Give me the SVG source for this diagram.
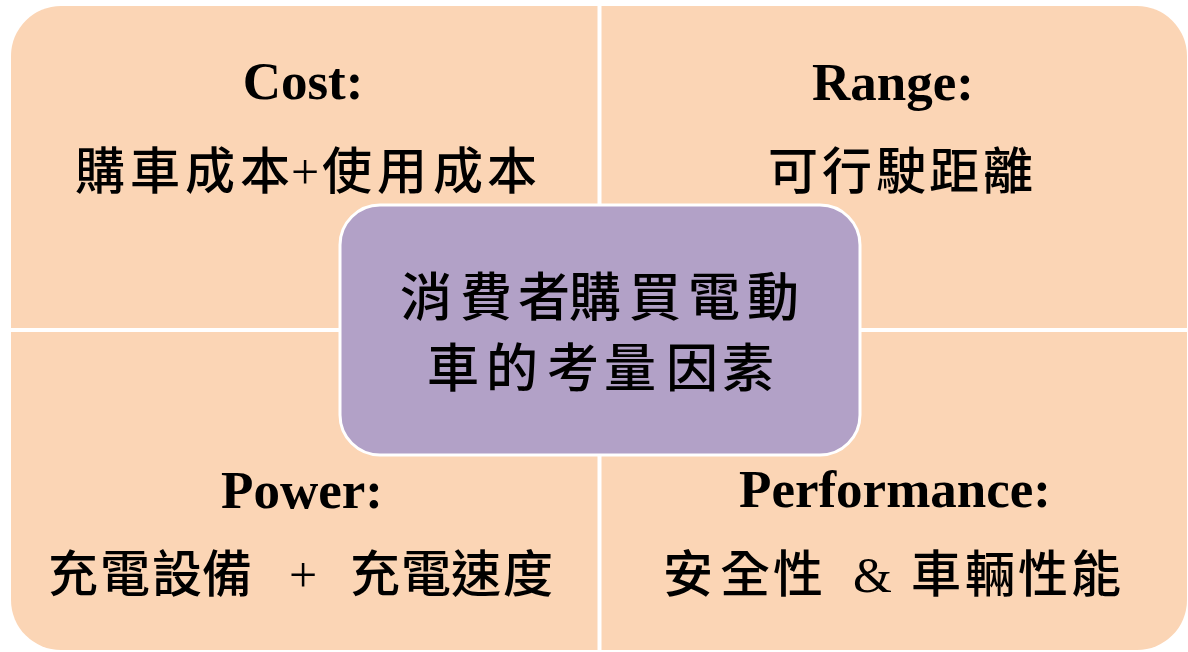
<svg xmlns="http://www.w3.org/2000/svg" width="1188" height="652" viewBox="0 0 1188 652">
<style>
.q{fill:#FBD5B5}
.en{font-family:"Liberation Serif","Times New Roman",serif;font-weight:bold;font-size:53px;fill:#000;text-anchor:middle}
.zh{font-family:"Liberation Serif","Noto Sans CJK TC","Noto Sans CJK SC",serif;font-size:50px;fill:#000;font-weight:500}
.zc{font-family:"Noto Sans CJK TC","Noto Sans CJK SC",sans-serif;font-size:52px;fill:#000;font-weight:500}
</style>
<rect width="1188" height="652" fill="#FFFFFF"/>
<g id="cost">
<path class="q" d="M11,56 A50,50 0 0 1 61,6 H597.5 V328 H11 Z"/>
<text class="en" x="303" y="99">Cost:</text>
<text class="zh" x="75 130 185 240 291 322 377 433 487" y="189">購車成本+使用成本</text>
</g>
<g id="range">
<path class="q" d="M601.5,6 H1137 A50,50 0 0 1 1187,56 V328 H601.5 Z"/>
<text class="en" x="893" y="100">Range:</text>
<text class="zh" x="768 822 876 929 983" y="189">可行駛距離</text>
</g>
<g id="power">
<path class="q" d="M11,332 H597.5 V650 H61 A50,50 0 0 1 11,600 Z"/>
<text class="en" x="302" y="508">Power:</text>
<text class="zh" x="48 100 152 202 262 289 330 350 401 451 503" y="592">充電設備 + 充電速度</text>
</g>
<g id="performance">
<path class="q" d="M601.5,332 H1187 V600 A50,50 0 0 1 1137,650 H601.5 Z"/>
<text class="en" x="895" y="507">Performance:</text>
<text class="zh" x="663 720 773 830 853 890 911 965 1018 1071" y="592">安全性 &amp; 車輛性能</text>
</g>
<g id="center">
<rect x="340" y="205" width="520" height="250" rx="40" ry="40" fill="#B2A1C7" stroke="#FFFFFF" stroke-width="3"/>
<text class="zc" x="400 460 518 569 629 688 747" y="316">消費者購買電動</text>
<text class="zc" x="427 486 547 604 666 722" y="387">車的考量因素</text>
</g>
<g id="connectors"></g>
</svg>
